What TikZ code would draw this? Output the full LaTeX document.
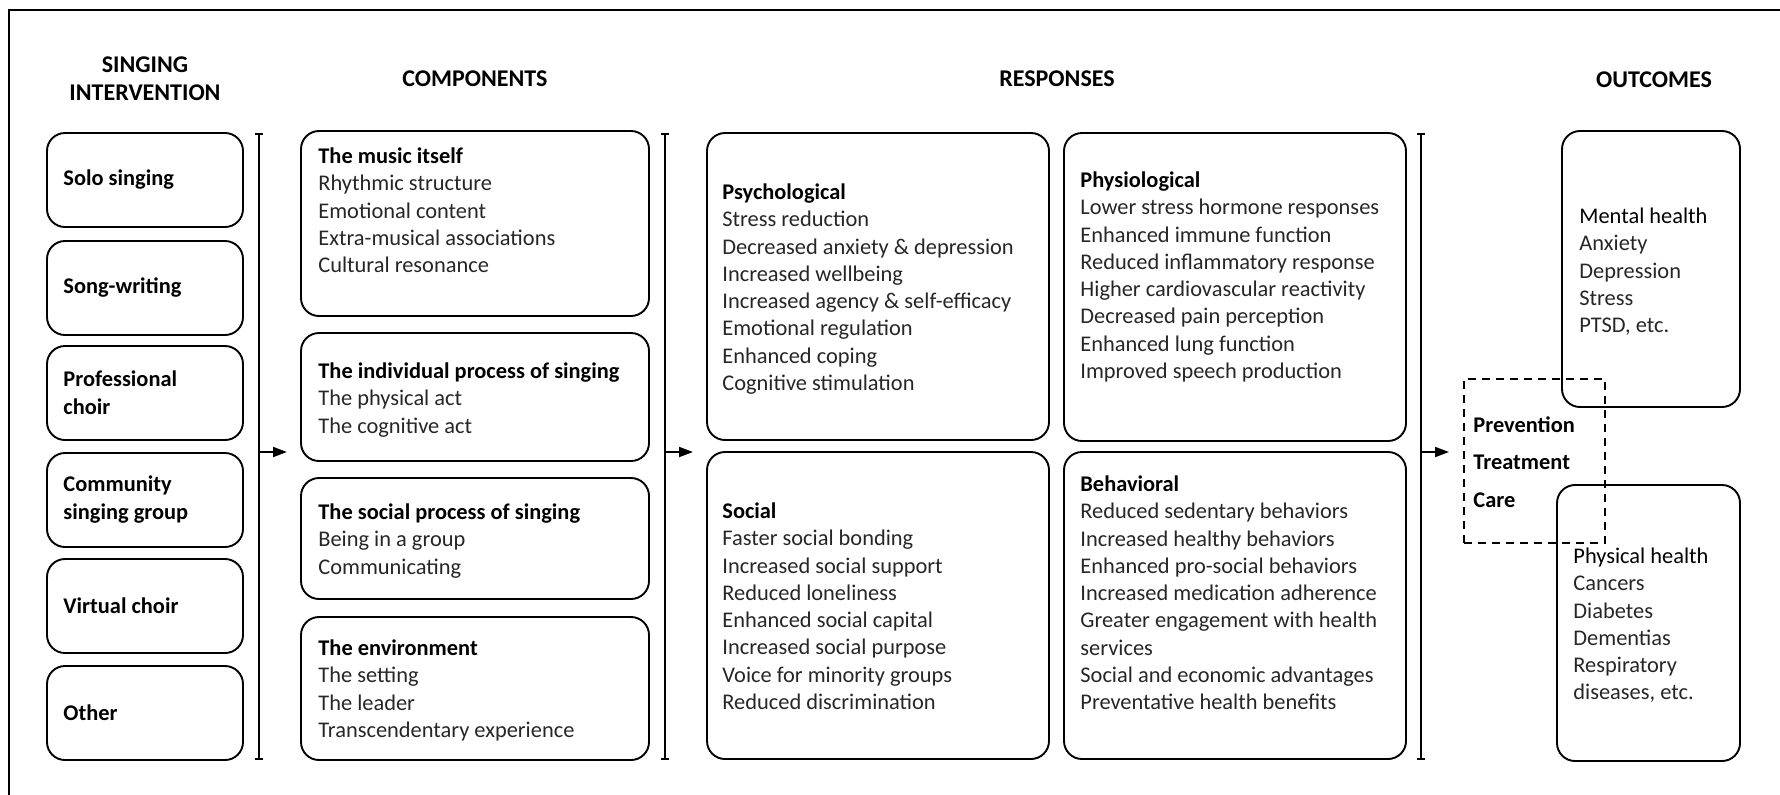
\documentclass[tikz,border=0pt]{standalone}
\usepackage{fontspec}
\setmainfont{Carlito}
\usetikzlibrary{arrows.meta,fit}
\newcommand\bxtitle[1]{\textcolor{black}{\bfseries #1}}
\newcommand\fl{\rule{0pt}{9pt}}
\begin{document}
\begin{tikzpicture}[x=0.5pt,y=-0.5pt,
 box/.style={draw, line width=0.95pt, rounded corners=9pt, inner sep=0pt},
 dbox/.style={draw, line width=0.95pt, dash pattern=on 4pt off 3pt, inner sep=0pt},
 body/.style={anchor=north west, inner sep=0pt, align=left, font=\fontsize{11.2}{13.65}\selectfont, text=black!85},
 lbl/.style={anchor=west, inner sep=0pt, align=left, font=\bfseries\fontsize{11.2}{14}\selectfont},
 head/.style={align=center, inner sep=0pt, font=\bfseries\fontsize{12}{14}\selectfont},
 brk/.style={line width=0.95pt, {Bar[width=4pt]}-{Bar[width=4pt]}},
 arr/.style={line width=0.95pt, -{Triangle[length=7pt,width=5pt]}},
 frame/.style={line width=0.95pt}
]
\useasboundingbox (0,0) rectangle (1780,794);
% frame (left and top edges visible)
\coordinate (fbl) at (9,800);
\coordinate (ftl) at (9,10);
\coordinate (ftr) at (1790,10);
\draw[frame] (fbl) -- (ftl) -- (ftr);

% headers
\node[head] (h1) at (145,79) {SINGING\\INTERVENTION};
\node[head] (h2) at (475,79) {COMPONENTS};
\node[head] (h3) at (1057,79) {RESPONSES};
\node[head] (h4) at (1654,80) {OUTCOMES};

% column 1
\node[box, fit={(47,133) (243,227)}] (solo) {};
\node[box, fit={(47,241) (243,335)}] (song) {};
\node[box, fit={(47,346) (243,440)}] (prof) {};
\node[box, fit={(47,453) (243,547)}] (comm) {};
\node[box, fit={(47,559) (243,653)}] (virt) {};
\node[box, fit={(47,666) (243,760)}] (other) {};
\node[lbl, xshift=8.5pt] (solo-t) at (solo.west) {Solo singing};
\node[lbl, xshift=8.5pt] (song-t) at (song.west) {Song-writing};
\node[lbl, xshift=8.5pt] (prof-t) at (prof.west) {Professional\\choir};
\node[lbl, xshift=8.5pt] (comm-t) at (comm.west) {Community\\singing group};
\node[lbl, xshift=8.5pt] (virt-t) at (virt.west) {Virtual choir};
\node[lbl, xshift=8.5pt] (other-t) at (other.west) {Other};

% bracket 1 and arrow
\coordinate (b1t) at (259,133);
\coordinate (b1b) at (259,760);
\draw[brk] (b1t) -- (b1b);
\coordinate (a1s) at (259,452);
\coordinate (a1e) at (287,452);
\draw[arr] (a1s) -- (a1e);

% column 2
\node[box, fit={(301,131) (649,316)}] (music) {};
\node[box, fit={(301,333) (649,461)}] (indiv) {};
\node[box, fit={(301,478) (649,599)}] (socp) {};
\node[box, fit={(301,617) (649,760)}] (env) {};
\node[body] (music-t) at (318,145) {\fl\bxtitle{The music itself}\\Rhythmic structure\\Emotional content\\Extra-musical associations\\Cultural resonance};
\node[body] (indiv-t) at (318,360) {\fl\bxtitle{The individual process of singing}\\The physical act\\The cognitive act};
\node[body] (socp-t) at (318,501) {\fl\bxtitle{The social process of singing}\\Being in a group\\Communicating};
\node[body] (env-t) at (318,637) {\fl\bxtitle{The environment}\\The setting\\The leader\\Transcendentary experience};

% bracket 2 and arrow
\coordinate (b2t) at (665,133);
\coordinate (b2b) at (665,760);
\draw[brk] (b2t) -- (b2b);
\coordinate (a2s) at (665,452);
\coordinate (a2e) at (693,452);
\draw[arr] (a2s) -- (a2e);

% column 3
\node[box, fit={(707,133) (1049,440)}] (psy) {};
\node[box, fit={(1064,133) (1406,441)}] (phy) {};
\node[box, fit={(707,452) (1049,759)}] (soc) {};
\node[box, fit={(1064,452) (1406,759)}] (beh) {};
\node[body] (psy-t) at (722,181) {\fl\bxtitle{Psychological}\\Stress reduction\\Decreased anxiety \& depression\\Increased wellbeing\\Increased agency \& self-efficacy\\Emotional regulation\\Enhanced coping\\Cognitive stimulation};
\node[body] (phy-t) at (1080,169) {\fl\bxtitle{Physiological}\\Lower stress hormone responses\\Enhanced immune function\\Reduced inflammatory response\\Higher cardiovascular reactivity\\Decreased pain perception\\Enhanced lung function\\Improved speech production};
\node[body] (soc-t) at (722,500) {\fl\bxtitle{Social}\\Faster social bonding\\Increased social support\\Reduced loneliness\\Enhanced social capital\\Increased social purpose\\Voice for minority groups\\Reduced discrimination};
\node[body] (beh-t) at (1080,473) {\fl\bxtitle{Behavioral}\\Reduced sedentary behaviors\\Increased healthy behaviors\\Enhanced pro-social behaviors\\Increased medication adherence\\Greater engagement with health\\services\\Social and economic advantages\\Preventative health benefits};

% bracket 3 and arrow
\coordinate (b3t) at (1421,133);
\coordinate (b3b) at (1421,760);
\draw[brk] (b3t) -- (b3b);
\coordinate (a3s) at (1421,452);
\coordinate (a3e) at (1449,452);
\draw[arr] (a3s) -- (a3e);

% outcomes
\node[box, fit={(1562,131) (1740,407)}] (ment) {};
\node[box, fit={(1557,485) (1740,761)}] (phys) {};
\node[body] (ment-t) at (1579,205) {\fl\textcolor{black}{Mental health}\\Anxiety\\Depression\\Stress\\PTSD, etc.};
\node[body] (phys-t) at (1573,545) {\fl\textcolor{black}{Physical health}\\Cancers\\Diabetes\\Dementias\\Respiratory\\diseases, etc.};
\node[dbox, fit={(1464,379) (1605,543)}] (ptc) {};
\node[anchor=north west, inner sep=0pt, align=left, font=\bfseries\fontsize{11.2}{18.75}\selectfont] (ptc-t) at (1473,414) {\fl Prevention\\Treatment\\Care};
\end{tikzpicture}
\end{document}
